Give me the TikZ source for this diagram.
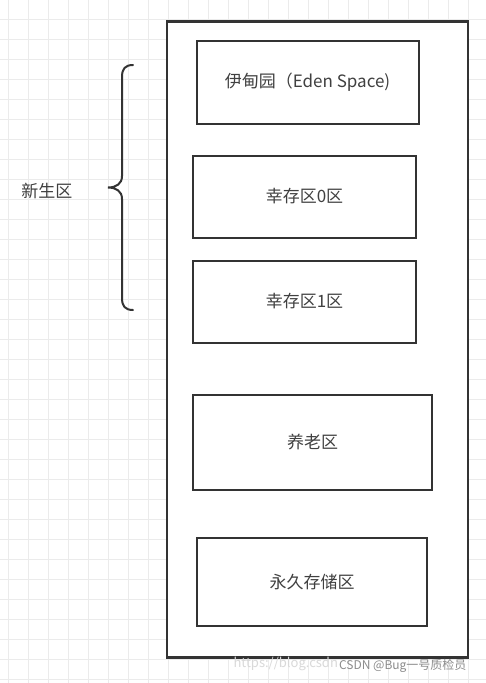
\documentclass[tikz,border=0pt]{standalone}
\usepackage{fontspec}
\setmainfont{Noto Sans CJK SC}
\usepackage{tikz}

\begin{document}
\begin{tikzpicture} [x=1pt,y=-1pt,
	gridline/.style={draw=black!8,line width=0.8pt},
	region/.style={draw=black!80,line width=2pt,fill=white,inner sep=0pt,text=black!75,font=\fontsize{17}{20}\selectfont},
	heapbox/.style={draw=black!80,line width=2.6pt,inner sep=0pt}]
			\useasboundingbox (0,0) rectangle (486,683);
			\fill[white] (0,0) rectangle (486,683);
			% background grid
			\foreach \x in {8.5,28.5,...,488}
				\draw[gridline] (\x,0) -- (\x,683);
			\foreach \y in {19,39,...,683}
				\draw[gridline] (0,\y) -- (486,\y);
			\node[heapbox,fill=white,minimum width=301pt,minimum height=636pt] (heap) at (317.5,339.5) {};
			\node[region,minimum width=222pt,minimum height=83pt] (eden) at (307.5,82) {伊甸园（Eden Space)\hspace{8pt}};
			\node[region,minimum width=223pt,minimum height=82pt] (s0) at (304.5,196.5) {幸存区0区};
			\node[region,minimum width=223pt,minimum height=82pt] (s1) at (304.5,301.5) {幸存区1区};
			\node[region,minimum width=239pt,minimum height=95pt] (old) at (312.5,442.5) {养老区};
			\node[region,minimum width=230pt,minimum height=88pt] (perm) at (312,582) {永久存储区};
			% brace for the young generation
			\coordinate (bracetop) at (133,65);
			\coordinate (bracetip) at (108,187.5);
			\coordinate (bracebot) at (133,310);
			\draw[draw=black!80,line width=2pt,line cap=round] (bracetop) .. controls (125,65) and (122,69) .. (122,77)
				-- (122,176) .. controls (122,184) and (116,187.5) .. (bracetip)
				.. controls (116,187.5) and (122,191) .. (122,199)
				-- (122,298) .. controls (122,306) and (125,310) .. (bracebot);
			\node[text=black!75,font=\fontsize{17}{20}\selectfont,anchor=east] (young) at ([xshift=-32pt,yshift=-3pt]bracetip) {新生区};
			% watermark
			\node[text=black!15,font=\fontsize{13}{15}\selectfont,anchor=west] (url) at (230,664) {https://blog.csdn};
			\node[text=black!45,font=\fontsize{12}{14}\selectfont,anchor=east] (mark) at (470,666) {CSDN @Bug一号质检员};
		\end{tikzpicture}
\end{document}
